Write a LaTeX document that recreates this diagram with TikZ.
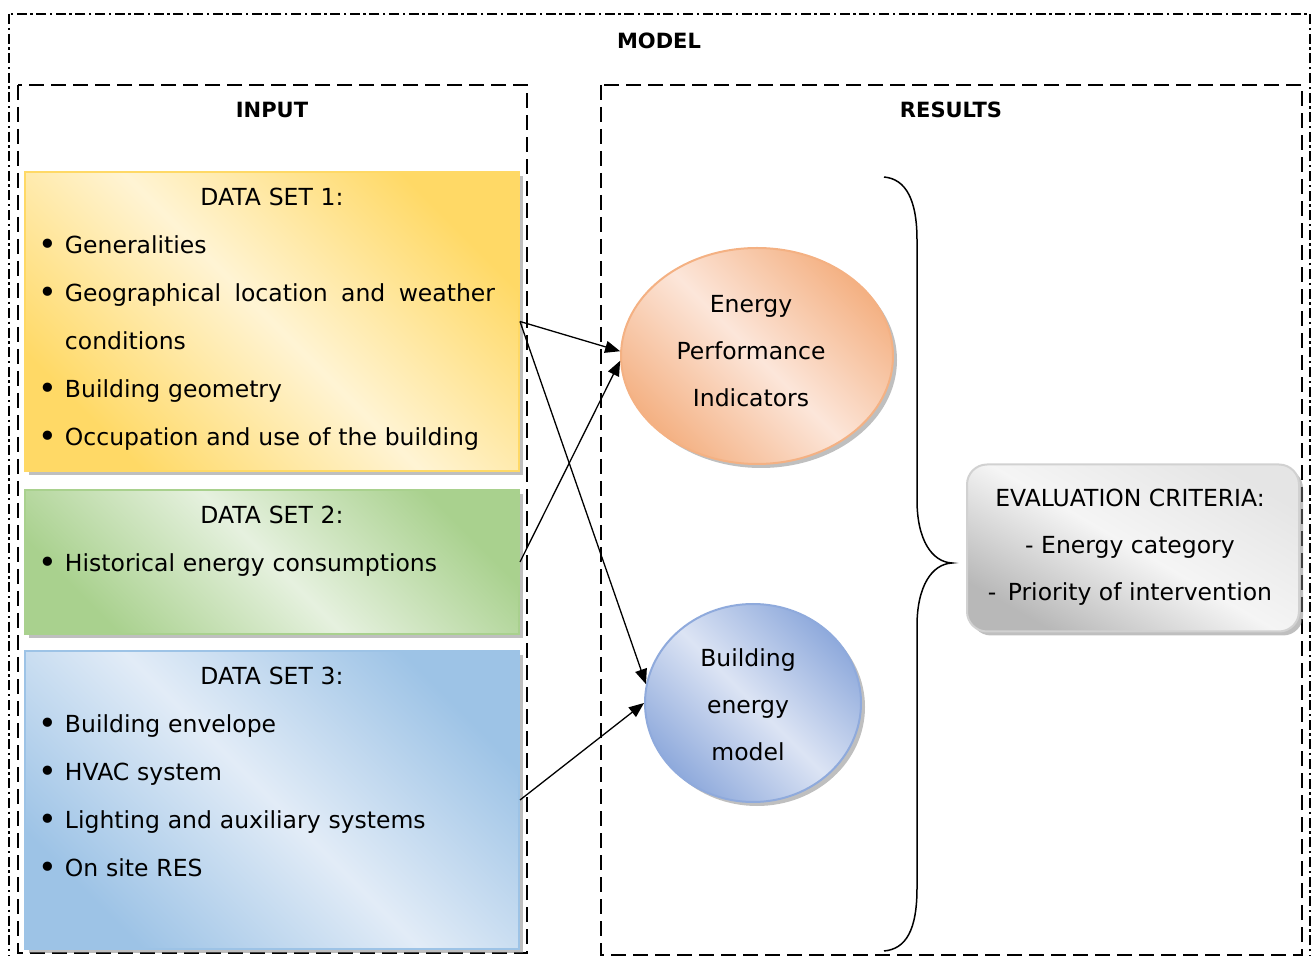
\documentclass[tikz,border=0pt]{standalone}
\usepackage{fontspec}
\setmainfont{DejaVu Sans}
\usetikzlibrary{positioning, shadows, arrows.meta, shapes.geometric}

\definecolor{ylwdark}{HTML}{FFD966}
\definecolor{ylwlight}{HTML}{FFF4D4}
\definecolor{grndark}{HTML}{A9D18E}
\definecolor{grnlight}{HTML}{E6F1DF}
\definecolor{bludark}{HTML}{9DC3E6}
\definecolor{blulight}{HTML}{E2ECF7}
\definecolor{orgdark}{HTML}{F4B183}
\definecolor{orglight}{HTML}{FCE6DA}
\definecolor{mdldark}{HTML}{8FAADC}
\definecolor{mdllight}{HTML}{DCE4F4}

\newcommand{\dstitle}[1]{\hbox to \hsize{\hfil #1\hfil}}
\newcommand{\dsitem}[1]{\makebox[13pt][l]{\raisebox{-0.7pt}{\scalebox{1.35}{\textbullet}}}#1}

\begin{document}
\begin{tikzpicture}[x=0.5pt, y=-0.5pt,
	frame/.style={draw, line width=0.8pt, dash pattern=on 5pt off 1.8pt on 1.2pt off 1.8pt},
	zone/.style={draw, line width=0.7pt, dash pattern=on 7.5pt off 3.5pt},
	hdr/.style={font=\fontsize{10.5}{12}\selectfont\bfseries, inner sep=0pt},
	dataset/.style 2 args={rectangle, minimum width=247pt, line width=1pt, draw=#1,
		top color=#1, bottom color=#1, middle color=#2, shading angle=-45,
		drop shadow={shadow xshift=2pt, shadow yshift=-2pt, opacity=0.5}},
	items/.style={text width=233pt, align=left, inner sep=0pt,
		font=\fontsize{11.75}{24}\selectfont},
	result/.style 2 args={ellipse, line width=1pt, draw=#1,
		top color=#1, bottom color=#1, middle color=#2, shading angle=-45,
		drop shadow={shadow xshift=2pt, shadow yshift=-2pt, opacity=0.5}},
	restext/.style={align=center, inner sep=0pt, font=\fontsize{11.75}{23.5}\selectfont},
	criteria/.style={rectangle, rounded corners=10pt, minimum width=166pt, minimum height=83.5pt,
		draw=black!18, line width=1pt, top color=black!10, bottom color=black!28,
		middle color=black!4, shading angle=-30,
		drop shadow={shadow xshift=2pt, shadow yshift=-2pt, opacity=0.5}},
	link/.style={-{Triangle[length=7.5pt, width=6pt]}, line width=0.65pt}]

	\useasboundingbox (0,0) rectangle (1312,956);

	% frames
	\draw[frame] (9,14) rectangle (1310,966);
	\draw[zone] (18,85) rectangle (527,953);
	\draw[zone] (601,85) rectangle (1302,955);
	\node[hdr] (model) at (659,41) {MODEL};
	\node[hdr] (input) at (272,110) {INPUT};
	\node[hdr] (results) at (951,110) {RESULTS};

	% input data sets
	\node[dataset={ylwdark}{ylwlight}, minimum height=149.5pt] (ds1) at (272,321.5) {};
	\node[dataset={grndark}{grnlight}, minimum height=72pt, below=8.5pt of ds1] (ds2) {};
	\node[dataset={bludark}{blulight}, minimum height=149pt, below=7.5pt of ds2] (ds3) {};

	\node[items, below=8.5pt of ds1.north] (ds1txt) {\dstitle{DATA SET 1:}\\
		\dsitem{Generalities}\\
		\dsitem{\hbox to 215pt{Geographical\hfill location\hfill and\hfill weather}}\\
		\hspace*{13pt}conditions\\
		\dsitem{Building geometry}\\
		\dsitem{Occupation and use of the building}};
	\node[items, below=8.5pt of ds2.north] (ds2txt) {\dstitle{DATA SET 2:}\\
		\dsitem{Historical energy consumptions}};
	\node[items, below=8.5pt of ds3.north] (ds3txt) {\dstitle{DATA SET 3:}\\
		\dsitem{Building envelope}\\
		\dsitem{HVAC system}\\
		\dsitem{Lighting and auxiliary systems}\\
		\dsitem{On site RES}};

	% results
	\node[result={orgdark}{orglight}, minimum width=136pt, minimum height=108pt] (epi) at (757,356) {};
	\node[restext] (epitxt) at ([xshift=-3pt, yshift=2.25pt]epi.center) {Energy\\Performance\\Indicators};
	\node[result={mdldark}{mdllight}, minimum width=108pt, minimum height=99pt] (bem) at (753,703) {};
	\node[restext] (bemtxt) at ([xshift=-2.5pt, yshift=-0.75pt]bem.center) {Building\\energy\\model};

	\draw[link] (ds1.east) -- (epi.178);
	\draw[link] (ds1.east) -- (bem.170);
	\draw[link] (ds2.east) -- (epi.182);
	\draw[link] (ds3.east) -- (bem.west);

	% brace and criteria
	\draw[line width=0.75pt] (884,177) .. controls (906,179) and (917,200) .. (917,240)
		-- (917,500) .. controls (917,540) and (932,562) .. (952,563)
		.. controls (932,564) and (917,586) .. (917,626)
		-- (917,888) .. controls (917,930) and (906,949) .. (884,951);
	\node[criteria] (crit) at (1133,548) {};
	\node[restext] (crittxt) at ([xshift=-1.5pt, yshift=0.5pt]crit.center)
		{EVALUATION CRITERIA:\\- Energy category\\-\ \,Priority of intervention};
\end{tikzpicture}
\end{document}
